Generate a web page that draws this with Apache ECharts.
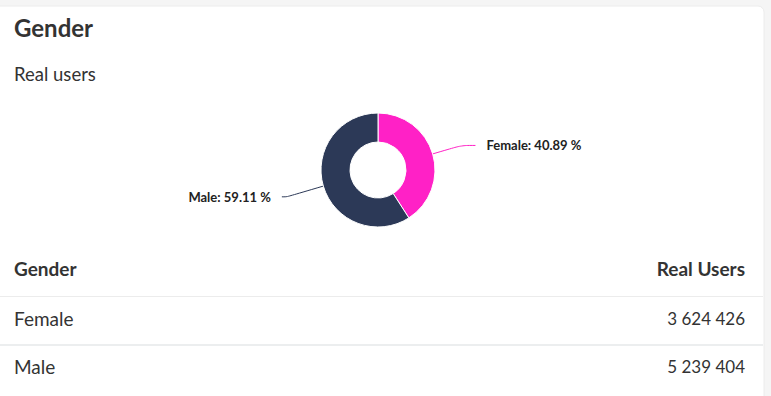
<!DOCTYPE html>
<html>
<head>
<meta charset="utf-8">
<script src="https://cdn.jsdelivr.net/npm/echarts@6/dist/echarts.min.js"></script>
<style>
html,body{margin:0;padding:0;background:#f5f5f5;}
#chart{width:771px;height:396px;}
</style>
</head>
<body>
<div id="chart"></div>
<script>
const title = 'Gender';
const subtitle = 'Real users';
const categories = ['Female', 'Male'];
const values = [3624426, 5239404];
const colors = ['#ff21c6', '#2c3957'];
const tableHeaders = ['Gender', 'Real Users'];

function fmt(n) {
  return String(n).replace(/\B(?=(\d{3})+(?!\d))/g, ' ');
}
const total = values.reduce((a, b) => a + b, 0);
const lineLen = [[30, 14], [38, 5]];

const chart = echarts.init(document.getElementById('chart'), null, {renderer: 'svg'});
const font = 'Lato, "Noto Sans", sans-serif';
const graphics = [
  {type: 'rect', z: -10, shape: {x: -10, y: 6, width: 774, height: 400, r: 6}, style: {fill: '#ffffff', stroke: '#ececec', lineWidth: 1}},
  {type: 'text', left: 14, top: 15, style: {text: title, font: 'bold 24px ' + font, fill: '#333333'}},
  {type: 'text', left: 14, top: 64, style: {text: subtitle, font: '18.5px ' + font, fill: '#333333'}},
  {type: 'text', left: 14, top: 259, style: {text: tableHeaders[0], font: 'bold 19px ' + font, fill: '#333333'}},
  {type: 'text', right: 26, top: 259, style: {text: tableHeaders[1], font: 'bold 19px ' + font, fill: '#333333', align: 'right'}},
  {type: 'line', shape: {x1: 0, y1: 296.5, x2: 763, y2: 296.5}, style: {stroke: '#ececec', lineWidth: 1}},
  {type: 'line', shape: {x1: 0, y1: 345, x2: 763, y2: 345}, style: {stroke: '#eceeef', lineWidth: 2}}
];
categories.forEach((c, i) => {
  const y = 309 + i * 48;
  graphics.push({type: 'text', left: 14, top: y, style: {text: c, font: '19px ' + font, fill: '#333333'}});
  graphics.push({type: 'text', right: 26, top: y + 1, style: {text: fmt(values[i]), font: '17px ' + font, fill: '#333333', align: 'right'}});
});

chart.setOption({
  animation: false,
  backgroundColor: '#f5f5f5',
  textStyle: {fontFamily: font},
  graphic: graphics,
  series: [{
    type: 'pie',
    center: [378, 170],
    radius: [28, 57],
    startAngle: 90,
    clockwise: true,
    avoidLabelOverlap: false,
    itemStyle: {borderColor: '#ffffff', borderWidth: 1},
    label: {
      show: true,
      formatter: p => p.name + ': ' + (p.value / total * 100).toFixed(2) + ' %',
      fontFamily: font,
      fontSize: 13,
      fontWeight: 'bold',
      color: '#222222',
      distanceToLabelLine: 11
    },
    labelLine: {show: true, length: 30, length2: 10, smooth: true, lineStyle: {width: 1}},
    data: categories.map((c, i) => ({
      name: c, value: values[i],
      itemStyle: {color: colors[i]},
      labelLine: {length: lineLen[i][0], length2: lineLen[i][1], smooth: true, lineStyle: {color: colors[i], width: 1}}
    }))
  }]
});
</script>
</body>
</html>
